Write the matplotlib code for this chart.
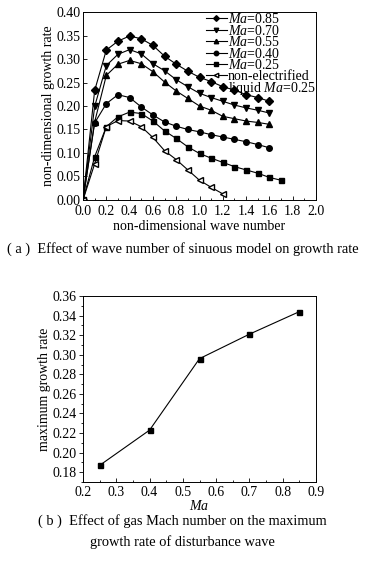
import matplotlib
matplotlib.use("Agg")
import matplotlib.pyplot as plt
from matplotlib.ticker import MultipleLocator, FormatStrFormatter

plt.rcParams['font.family'] = ['Liberation Serif', 'DejaVu Serif']
plt.rcParams['mathtext.fontset'] = 'custom'
plt.rcParams['mathtext.it'] = 'Liberation Serif:italic'
plt.rcParams['mathtext.rm'] = 'Liberation Serif'

# ---- data (a) ----
k16 = [0.0, 0.1, 0.2, 0.3, 0.4, 0.5, 0.6, 0.7, 0.8, 0.9, 1.0, 1.1, 1.2, 1.3, 1.4, 1.5, 1.6]
k17 = k16 + [1.7]
k12 = [0.0, 0.1, 0.2, 0.3, 0.4, 0.5, 0.6, 0.7, 0.8, 0.9, 1.0, 1.1, 1.2]

g085 = [0.0, 0.233, 0.319, 0.338, 0.349, 0.343, 0.329, 0.306, 0.289, 0.274, 0.261, 0.252, 0.241, 0.234, 0.224, 0.218, 0.210]
g070 = [0.0, 0.199, 0.286, 0.310, 0.320, 0.311, 0.290, 0.275, 0.256, 0.241, 0.227, 0.218, 0.210, 0.202, 0.196, 0.191, 0.185]
g055 = [0.0, 0.166, 0.265, 0.289, 0.297, 0.290, 0.273, 0.251, 0.232, 0.216, 0.200, 0.191, 0.178, 0.173, 0.168, 0.165, 0.161]
g040 = [0.0, 0.164, 0.205, 0.224, 0.218, 0.198, 0.181, 0.166, 0.157, 0.150, 0.145, 0.139, 0.134, 0.129, 0.124, 0.118, 0.111]
g025 = [0.0, 0.092, 0.156, 0.177, 0.187, 0.184, 0.168, 0.147, 0.131, 0.113, 0.099, 0.089, 0.080, 0.071, 0.064, 0.057, 0.048, 0.042]
g_ne = [0.0, 0.077, 0.156, 0.169, 0.168, 0.156, 0.133, 0.105, 0.086, 0.064, 0.042, 0.027, 0.013]

# ---- data (b) ----
Ma = [0.25, 0.40, 0.55, 0.70, 0.85]
gmax = [0.187, 0.223, 0.296, 0.321, 0.344]

FS = 10

fig = plt.figure(figsize=(3.65, 5.61), dpi=100)

ax1 = fig.add_axes([0.2274, 0.6435, 0.6384, 0.3351])
lw = 0.8
ms = 4
ax1.plot(k16, g085, '-', marker='D', color='black', lw=lw, ms=3.6, label=r'$\mathit{Ma}$=0.85')
ax1.plot(k16, g070, '-', marker='v', color='black', lw=lw, ms=ms, label=r'$\mathit{Ma}$=0.70')
ax1.plot(k16, g055, '-', marker='^', color='black', lw=lw, ms=ms, label=r'$\mathit{Ma}$=0.55')
ax1.plot(k16, g040, '-', marker='o', color='black', lw=lw, ms=ms, label=r'$\mathit{Ma}$=0.40')
ax1.plot(k17, g025, '-', marker='s', color='black', lw=lw, ms=3.6, label=r'$\mathit{Ma}$=0.25')
ax1.plot(k12, g_ne, '-', marker='<', color='black', mfc='white', lw=lw, ms=ms,
         label='non-electrified')
ax1.plot([], [], ' ', label='liquid ' + r'$\mathit{Ma}$=0.25')
ax1.set_xlim(0, 2.0)
ax1.set_ylim(0, 0.40)
ax1.xaxis.set_major_locator(MultipleLocator(0.2))
ax1.xaxis.set_minor_locator(MultipleLocator(0.1))
ax1.yaxis.set_major_locator(MultipleLocator(0.05))
ax1.tick_params(axis='both', which='both', direction='in', labelsize=FS, width=0.6)
ax1.tick_params(axis='x', pad=3.5)
ax1.tick_params(axis='y', pad=1.5)
ax1.tick_params(which='major', length=3)
ax1.tick_params(which='minor', length=1.5)
ax1.xaxis.set_major_formatter(FormatStrFormatter('%.1f'))
ax1.yaxis.set_major_formatter(FormatStrFormatter('%.2f'))
ax1.set_xlabel('non-dimensional wave number', fontsize=FS, labelpad=1.5)
ax1.set_ylabel('non-dimensional growth rate', fontsize=FS, labelpad=1)
for s in ax1.spines.values():
    s.set_linewidth(0.7)
leg = ax1.legend(loc='upper right', frameon=False, fontsize=FS, handlelength=1.5,
                 handletextpad=0.1, labelspacing=-0.18, borderaxespad=0.0,
                 borderpad=0.0, markerscale=0.8)

ax2 = fig.add_axes([0.2274, 0.1408, 0.6384, 0.3316])
ax2.plot(Ma, gmax, '-', marker='s', color='black', lw=lw, ms=3.6)
ax2.set_xlim(0.2, 0.9)
ax2.set_ylim(0.17, 0.36)
ax2.xaxis.set_major_locator(MultipleLocator(0.1))
ax2.xaxis.set_minor_locator(MultipleLocator(0.05))
ax2.yaxis.set_major_locator(MultipleLocator(0.02))
ax2.yaxis.set_minor_locator(MultipleLocator(0.01))
ax2.xaxis.set_major_formatter(FormatStrFormatter('%.1f'))
ax2.yaxis.set_major_formatter(FormatStrFormatter('%.2f'))
ax2.tick_params(axis='x', which='both', direction='in', pad=3)
ax2.tick_params(axis='y', which='both', direction='out', pad=1.5)
ax2.tick_params(axis='both', which='both', labelsize=FS, width=0.6)
ax2.tick_params(which='major', length=3)
ax2.tick_params(which='minor', length=1.5)
ax2.set_xlabel(r'$\mathit{Ma}$', fontsize=FS, labelpad=0)
ax2.set_ylabel('maximum growth rate', fontsize=FS, labelpad=1)
for s in ax2.spines.values():
    s.set_linewidth(0.7)

fig.text(0.5, 1 - 249 / 561, '( a )  Effect of wave number of sinuous model on growth rate',
         ha='center', va='center', fontsize=10.4)
fig.text(0.5, 1 - 521 / 561, '( b )  Effect of gas Mach number on the maximum',
         ha='center', va='center', fontsize=10.4)
fig.text(0.5, 1 - 542 / 561, 'growth rate of disturbance wave',
         ha='center', va='center', fontsize=10.4)

fig.savefig('out.png', dpi=100)
